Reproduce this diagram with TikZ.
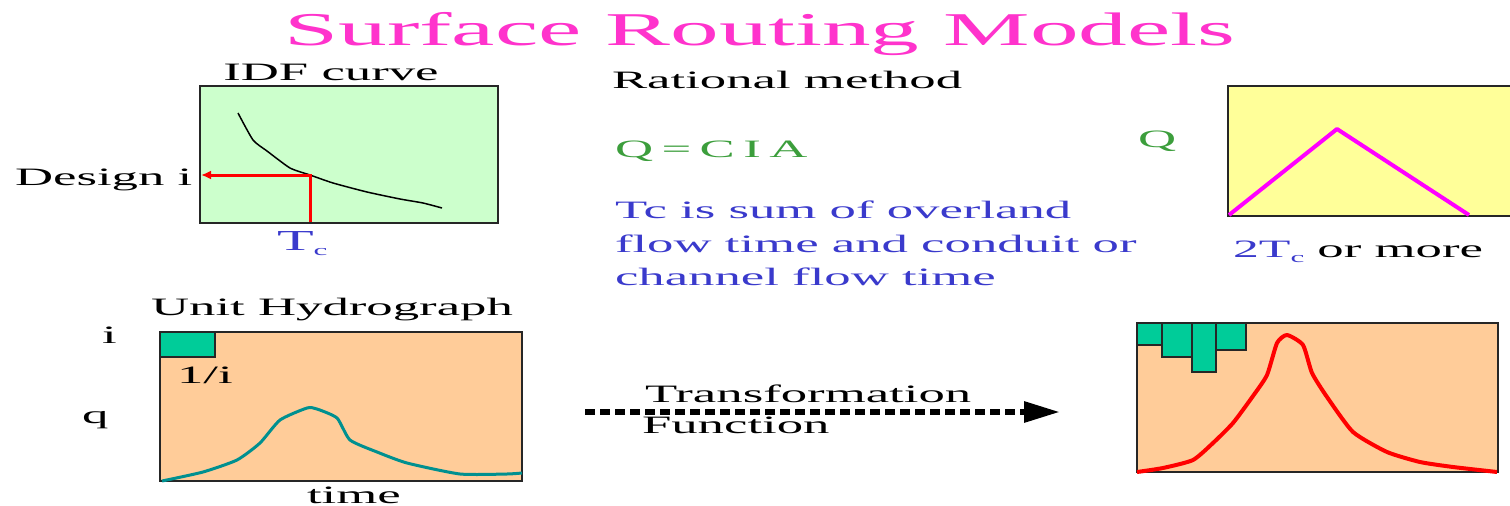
\documentclass[tikz,border=0pt]{standalone}
\usepackage{fontspec}
\setmainfont{Liberation Serif}
\usetikzlibrary{arrows.meta}
\definecolor{titlemag}{HTML}{FF33CC}
\definecolor{idfgreen}{HTML}{CCFFCC}
\definecolor{boxyellow}{HTML}{FFFF99}
\definecolor{peach}{HTML}{FFCC99}
\definecolor{barcol}{HTML}{00CC99}
\definecolor{tealc}{HTML}{009090}
\definecolor{txtblue}{HTML}{3A3ACC}
\definecolor{txtgreen}{HTML}{3C9E3C}
\definecolor{magc}{HTML}{FF00FF}
\newcommand{\W}[1]{\scalebox{2.11}[1]{#1}}
\newcommand{\T}[1]{\scalebox{2.07}[1]{#1}}
\tikzset{
  txt/.style={inner sep=0pt, outer sep=0pt, font=\fontsize{25}{28}\selectfont},
  frame/.style={draw=black!85, line width=2pt},
  bar/.style={draw=black!85, line width=1.5pt, fill=barcol},
}
\begin{document}
\begin{tikzpicture}[x=1pt,y=-1pt]
\useasboundingbox (0,0) rectangle (1510,506);
% title
\node[txt, anchor=base, text=titlemag, font=\fontsize{47}{50}\selectfont] (title) at (760,45) {\T{Surface Routing Models}};

% IDF curve panel
\node[txt, anchor=base] (idft) at (331,80) {\W{IDF curve}};
\filldraw[frame, fill=idfgreen] (200,86) rectangle (498,223);
\draw[line width=1.5pt, line join=round] plot[smooth, tension=0.35] coordinates {(238,113) (253,140) (267,151) (290,168) (310,175) (333,183) (367,192) (400,199) (423,203) (442,208)};
\coordinate (tcb) at (310,222);
\coordinate (tci) at (310,175);
\coordinate (axl) at (201,175);
\draw[red, line width=3pt, -{Latex[length=10pt,width=9pt]}] (tcb) -- (tci) -- (axl);
\node[txt, anchor=base west] (design) at (15,185) {\W{Design i}};
\node[txt, anchor=base west, text=txtblue, font=\fontsize{29}{30}\selectfont] (tc) at (277,250) {\T{T}\raisebox{-5pt}{\fontsize{15}{16}\selectfont\T{c}}};

% Rational method text
\node[txt, anchor=base west] (ratm) at (612,88) {\W{Rational method}};
\node[txt, anchor=base west, text=txtgreen] (qcia) at (615,157) {\W{Q\hspace{4pt}=\hspace{4pt}C\hspace{4pt}I\hspace{4pt}A}};
\node[txt, anchor=base west, text=txtblue] (tl1) at (615,218) {\W{Tc is sum of overland}};
\node[txt, anchor=base west, text=txtblue] (tl2) at (615,252) {\W{flow time and conduit or}};
\node[txt, anchor=base west, text=txtblue] (tl3) at (615,285) {\W{channel flow time}};

% triangular hydrograph
\node[txt, anchor=base west, text=txtgreen] (qlab) at (1138,147) {\W{Q}};
\filldraw[frame, fill=boxyellow] (1228,86) rectangle (1512,216);
\draw[magc, line width=4pt, line join=round] (1229,215) -- (1337,129) -- (1469,215);
\node[txt, anchor=base west] (twotc) at (1233,257) {\textcolor{txtblue}{\T{2T}\raisebox{-5pt}{\fontsize{15}{16}\selectfont\T{c}}}\W{ or more}};

% unit hydrograph
\node[txt, anchor=base] (uht) at (332,315) {\W{Unit Hydrograph}};
\filldraw[frame, fill=peach] (160,332) rectangle (522,481);
\filldraw[bar] (160,332) rectangle (215,357);
\draw[tealc, line width=3pt, line join=round] plot[smooth, tension=0.35] coordinates {(162,481) (203,472) (237,460) (260,443) (280,420) (307,408) (317,409) (337,418) (350,440) (377,452) (407,463) (460,474) (507,474) (522,473)};
\node[txt, anchor=base west] (ilab) at (102,343) {\W{i}};
\node[txt, anchor=base west] (invi) at (177,383) {\W{1/i}};
\node[txt, anchor=base west] (qq) at (82,423) {\W{q}};
\node[txt, anchor=base west] (time) at (307,503) {\W{time}};

% transformation arrow
\coordinate (ta) at (585,412);
\coordinate (tb) at (1060,412);
\draw[line width=6pt, dash pattern=on 10pt off 5pt, -{Triangle[length=36pt,width=20pt]}] (ta) -- (tb);
\node[txt, anchor=base west] (trans) at (645,402) {\W{Transformation}};
\node[txt, anchor=base west] (func) at (642,433) {\W{Function}};

% storm hydrograph
\filldraw[frame, fill=peach] (1137,323) rectangle (1498,472);
\filldraw[bar] (1137,323) rectangle (1162,345);
\filldraw[bar] (1162,323) rectangle (1192,357);
\filldraw[bar] (1192,323) rectangle (1216,372);
\filldraw[bar] (1216,323) rectangle (1246,350);
\draw[red, line width=4pt, line join=round] plot[smooth, tension=0.35] coordinates {(1137,472) (1163,468) (1193,460) (1213,443) (1233,423) (1253,396) (1267,375) (1277,343) (1287,335) (1303,345) (1312,373) (1327,397) (1353,432) (1387,452) (1420,462) (1453,467) (1497,472)};
\end{tikzpicture}
\end{document}
